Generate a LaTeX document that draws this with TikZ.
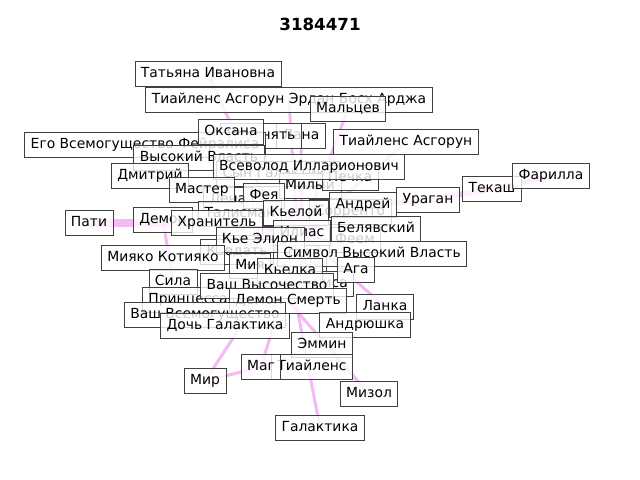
\documentclass[tikz,border=0pt]{standalone}
\usepackage{fontspec}
\setmainfont{DejaVu Sans}
\usepackage{tikz}
\usetikzlibrary{positioning,backgrounds}
\definecolor{edgeviolet}{RGB}{238,130,238}

\begin{document}
\begin{tikzpicture}[
    x=0.72pt, y=-0.72pt,
    lbl/.style={rectangle, draw=black!75, line width=0.55pt, fill=white, fill opacity=0.8, text opacity=1, inner xsep=4.3pt, inner ysep=4.2pt, text height=7.5pt, text depth=2.2pt, font=\fontsize{10}{12}\selectfont},
    edge/.style={draw=edgeviolet, line width=2.2pt, opacity=0.55},
    band/.style={edge, line width=6pt}
]
\useasboundingbox (0,0) rectangle (640,480);
\node[font=\bfseries\fontsize{12}{14}\selectfont] (title) at (320,24) {3184471};

% labels at the back
\node[lbl] (lana) at (301,136) {Лана};
\node[lbl] (izvin) at (261,136) {Извинять};
\node[lbl] (ego) at (145,145) {Его Всемогущество Фейралиса};
\node[lbl] (oksana) at (231,132) {Оксана};
\node[lbl] (vysvlast) at (199,158) {Высокий Власть};
\node[lbl] (syngal) at (278,174) {Сын Галактика};
\node[lbl] (milyi) at (310,186) {Милый};
\node[lbl] (pechka) at (350,178) {Печка};
\node[lbl] (vsevolod) at (309,167) {Всеволод Илларионович};
\node[lbl] (dmitriy) at (150,176) {Дмитрий};
\node[lbl] (lena) at (228,200) {Лена};
\node[lbl] (master) at (202,190) {Мастер};
\node[lbl] (feya) at (264,196) {Фея};
\node[lbl] (talisman) at (240,214) {Талисман};
\node[lbl] (demon) at (163,220) {Демон};
\node[lbl] (hranitel) at (217,223) {Хранитель};
\node[lbl] (sorrento) at (350,212) {Сорренто};
\node[lbl] (kelo) at (296,213) {Кьелой};
\node[lbl] (andrey) at (363,205) {Андрей};
\node[lbl] (uragan) at (428,200) {Ураган};
\node[lbl] (tekash) at (492,189) {Текаш};
\node[lbl] (farilla) at (551,176) {Фарилла};
\node[lbl] (pati) at (89,223) {Пати};
\node[lbl] (feem) at (355,240) {Феем};
\node[lbl] (belyav) at (376,229) {Белявский};
\node[lbl] (ilias) at (302,233) {Илиас};
\node[lbl] (kedat) at (237,252) {Кьедать};
\node[lbl] (keelion) at (260,240) {Кье Элион};
\node[lbl] (miyako) at (163,258) {Мияко Котияко};
\node[lbl] (zov) at (308,262) {Зов};
\node[lbl] (simvol) at (372,254) {Символ Высокий Власть};
\node[lbl] (miya) at (250,266) {Мия};
\node[lbl] (lisa) at (330,284) {Лиса};
\node[lbl] (kelka) at (290,271) {Кьелка};
\node[lbl] (aga) at (356,270) {Ага};
\node[lbl] (sila) at (173,282) {Сила};
\node[lbl] (princ) at (188,300) {Принцесса};
\node[lbl] (vashvys) at (267,286) {Ваш Высочество};
\node[lbl] (demsm) at (288,301) {Демон Смерть};
\node[lbl] (vashvsem) at (205,315) {Ваш Всемогущество};
\node[lbl] (doch) at (225,326) {Дочь Галактика};
\node[lbl] (lanka) at (385,307) {Ланка};
\node[lbl] (andryu) at (365,325) {Андрюшка};
\node[lbl] (emmin) at (322,345) {Эммин};
\node[lbl] (tiail) at (312,367) {Тиайленс};
\node[lbl] (mag) at (261,367) {Маг};
\node[lbl] (mir) at (205,381) {Мир};
\node[lbl] (mizol) at (369,394) {Мизол};
\node[lbl] (galakt) at (320,428) {Галактика};
% labels at the top
\node[lbl] (tatyana) at (208,74) {Татьяна Ивановна};
\node[lbl] (tiaerdan) at (289,100) {Тиайленс Асгорун Эрдан Босх Арджа};
\node[lbl] (maltsev) at (348,109) {Мальцев};
\node[lbl] (tiaasg) at (406,142) {Тиайленс Асгорун};

\begin{scope}[on background layer]
\fill[white] (0,0) rectangle (640,480);
\draw[band] (pati.center) -- (hranitel.center);
\draw[band, line width=4pt] (farilla.center) -- (tekash.center);
\draw[band, line width=4pt] (tekash.center) -- (uragan.center);
\draw[band, line width=4pt] (uragan.center) -- (andrey.center);
\draw[edge] (andrey.center) -- (ilias.center);
\draw[edge] (tatyana.center) -- (feya.center);
\draw[edge] (tiaerdan.center) -- (kelo.center);
\draw[edge] (maltsev.center) -- (ilias.center);
\draw[edge] (tiaasg.center) -- (ilias.center);
\draw[edge] (lana.center) -- (ilias.center);
\draw[edge] (dmitriy.center) -- (kelo.center);
\draw[edge] (feya.center) -- (ilias.center);
\draw[edge] (hranitel.center) -- (ilias.center);
\draw[edge] (keelion.center) -- (ilias.center);
\draw[edge] (kelo.center) -- (ilias.center);
\draw[edge] (miya.center) -- (ilias.center);
\draw[edge] (kedat.center) -- (kelo.center);
\draw[edge] (simvol.center) -- (ilias.center);
\draw[edge] (demon.center) -- (sila.center);
\draw[edge] (mir.center) -- (mag.center);
\draw[edge] (mir.center) -- (vashvys.center);
\draw[edge] (mag.center) -- (kelka.center);
\draw[edge] (galakt.center) -- (kelka.center);
\draw[edge] (mizol.center) -- (demsm.center);
\draw[edge] (lanka.center) -- (ilias.center);
\end{scope}
\end{tikzpicture}
\end{document}
